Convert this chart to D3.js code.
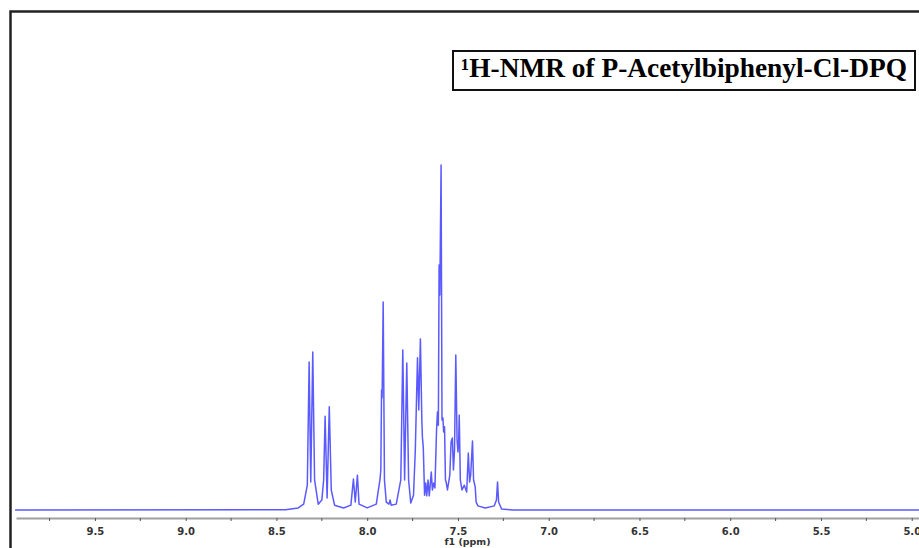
<!DOCTYPE html>
<html>
<head>
<meta charset="utf-8">
<script src="https://cdn.jsdelivr.net/npm/d3@7"></script>
<style>
  body { margin: 0; background: #fff; }
  svg { display: block; }
</style>
</head>
<body>
<div id="chart"></div>
<script>
// spectrum vertices (chemical shift in ppm, relative intensity %)
const ppm = [9.94, 8.45, 8.38, 8.35, 8.33, 8.320, 8.311, 8.300, 8.290, 8.270,
  8.250, 8.240, 8.232, 8.221, 8.209, 8.198, 8.180, 8.130, 8.090, 8.076,
  8.066, 8.054, 8.045, 8.000, 7.950, 7.930, 7.925, 7.921, 7.918, 7.916,
  7.912, 7.905, 7.895, 7.880, 7.874, 7.868, 7.840, 7.815, 7.804, 7.794,
  7.782, 7.772, 7.760, 7.745, 7.735, 7.723, 7.716, 7.707, 7.699, 7.696,
  7.691, 7.684, 7.678, 7.672, 7.665, 7.658, 7.647, 7.641, 7.634, 7.627,
  7.618, 7.613, 7.608, 7.604, 7.600, 7.593, 7.588, 7.583, 7.579, 7.574,
  7.569, 7.565, 7.558, 7.545, 7.538, 7.531, 7.525, 7.519, 7.512, 7.505,
  7.500, 7.496, 7.493, 7.487, 7.478, 7.465, 7.452, 7.443, 7.436, 7.430,
  7.420, 7.414, 7.405, 7.400, 7.390, 7.350, 7.300, 7.288, 7.282, 7.276,
  7.260, 7.200, 4.950];
const intensity = [0, 0.1, 0.6, 1.7, 7.2, 42.9, 8.1, 45.8, 8.7, 1.7,
  2.9, 8.7, 27.2, 3.5, 29.9, 5.8, 1.4, 0.6, 1.4, 9.0,
  2.3, 10.1, 1.7, 0.6, 1.7, 8.7, 11.6, 34.8, 32.5, 41.2,
  60.3, 8.7, 2.3, 1.7, 2.9, 1.4, 1.7, 8.7, 46.4, 8.7,
  42.6, 8.7, 2.0, 4.3, 17.4, 44.1, 29.0, 49.6, 26.1, 21.2,
  18.0, 4.3, 7.8, 4.1, 8.7, 4.1, 11.0, 5.8, 7.8, 6.4,
  23.2, 28.4, 24.6, 71.0, 62.3, 100, 26.1, 26.7, 22.6, 24.1,
  8.7, 8.1, 5.8, 10.1, 19.7, 20.9, 11.6, 17.4, 44.9, 20.3,
  16.8, 20.3, 27.5, 8.7, 5.8, 7.2, 5.2, 16.5, 8.1, 10.1,
  20.0, 8.7, 6.7, 2.3, 1.2, 0.6, 1.2, 2.9, 8.1, 2.3,
  0.3, 0, 0];

const majorTicks = [9.5, 9.0, 8.5, 8.0, 7.5, 7.0, 6.5, 6.0, 5.5, 5.0];
const minorTicks = [9.75, 9.25, 8.75, 8.25, 7.75, 7.25, 6.75, 6.25, 5.75, 5.25];
const axisTitle = "f1 (ppm)";
const chartTitle = "\u00b9H-NMR of P-Acetylbiphenyl-Cl-DPQ";

const width = 919, height = 548;
const margin = { left: 16, right: 0, baseline: 510, top: 165, axis: 518 };

const svg = d3.select("#chart").append("svg")
  .attr("width", width)
  .attr("height", height);

// outer frame (only top and left visible)
svg.append("path")
  .attr("d", `M10.5,${height} L10.5,11.5 L${width},11.5`)
  .attr("fill", "none")
  .attr("stroke", "#222")
  .attr("stroke-width", 2.5);

// scales
const x = d3.scaleLinear()
  .domain([9.935, 4.96])
  .range([margin.left, width - margin.right]);

const y = d3.scaleLinear()
  .domain([0, 100])
  .range([margin.baseline, margin.top]);

// x axis
const xAxis = svg.append("g")
  .attr("transform", `translate(0,${margin.axis})`)
  .call(d3.axisBottom(x)
    .tickValues(majorTicks)
    .tickFormat(d3.format(".1f"))
    .tickSize(3)
    .tickSizeOuter(0)
    .tickPadding(7));

xAxis.select(".domain")
  .attr("stroke", "#a0a0a0")
  .attr("stroke-width", 2);
xAxis.selectAll(".tick line").attr("stroke", "#555");
xAxis.selectAll(".tick text")
  .attr("fill", "#333")
  .style("font-family", "'DejaVu Sans', Verdana, sans-serif")
  .style("font-weight", "bold")
  .style("font-size", "10px");

svg.append("g")
  .selectAll("line")
  .data(minorTicks)
  .join("line")
  .attr("x1", d => x(d))
  .attr("x2", d => x(d))
  .attr("y1", margin.axis)
  .attr("y2", margin.axis + 3)
  .attr("stroke", "#555");

svg.append("text")
  .attr("x", (x.range()[0] + x.range()[1]) / 2)
  .attr("y", 545)
  .attr("text-anchor", "middle")
  .attr("fill", "#333")
  .style("font-family", "'DejaVu Sans', Verdana, sans-serif")
  .style("font-weight", "bold")
  .style("font-size", "9.5px")
  .text(axisTitle);

// spectrum
const points = ppm.map((p, i) => [p, intensity[i]]);
const line = d3.line()
  .x(d => x(d[0]))
  .y(d => y(d[1]));

svg.append("path")
  .datum(points)
  .attr("fill", "none")
  .attr("stroke", "#5a5aff")
  .attr("stroke-width", 1.5)
  .attr("stroke-linejoin", "round")
  .attr("d", line);

// title box
const box = { x: 453, y: 51, w: 462, h: 39 };
svg.append("rect")
  .attr("x", box.x)
  .attr("y", box.y)
  .attr("width", box.w)
  .attr("height", box.h)
  .attr("fill", "#fff")
  .attr("stroke", "#111")
  .attr("stroke-width", 2);

const title = svg.append("text")
  .attr("x", box.x + box.w / 2)
  .attr("y", 77)
  .attr("text-anchor", "middle")
  .attr("fill", "#000")
  .style("font-family", "'Liberation Serif', 'Times New Roman', serif")
  .style("font-weight", "bold")
  .style("font-size", "25px")
  .text(chartTitle);

// fit the title to the box width like in the original
const tw = title.node().getComputedTextLength();
title.style("font-size", (25 * 446 / tw).toFixed(2) + "px");
</script>
</body>
</html>
